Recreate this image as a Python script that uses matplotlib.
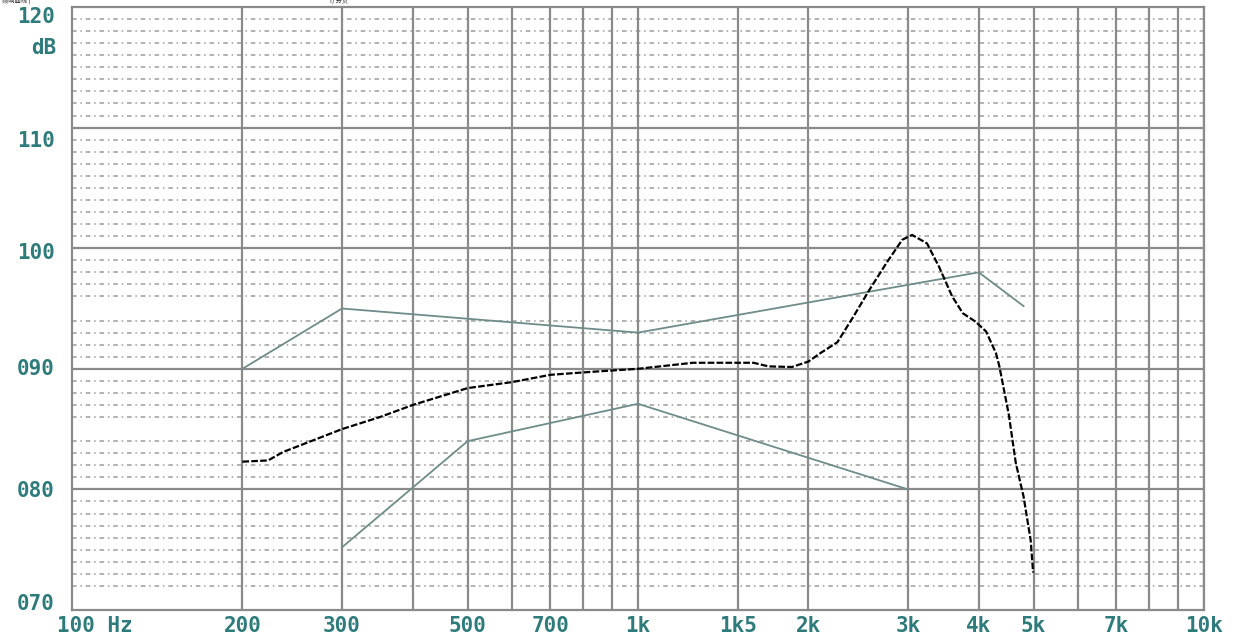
import matplotlib.pyplot as plt
import numpy as np

# frequency response curves (Hz, dB)
upper_freq = [200, 300, 1000, 4000, 4800]
upper_db = [90.0, 95.0, 93.0, 98.0, 95.2]

lower_freq = [300, 500, 1000, 3000]
lower_db = [75.2, 84.0, 87.1, 80.0]

main_freq = [200, 222, 236, 300, 350, 400, 500, 600, 700, 800, 1000, 1250, 1600,
             1700, 1870, 2000, 2100, 2250, 2400, 2560, 2750, 2930, 3050, 3240,
             3400, 3590, 3750, 3950, 4120, 4290, 4350, 4520, 4650, 4800, 4940, 4990]
main_db = [82.3, 82.4, 83.1, 85.0, 86.0, 87.0, 88.4, 88.9, 89.5, 89.7, 90.0, 90.5, 90.5,
           90.2, 90.15, 90.6, 91.3, 92.2, 94.3, 96.5, 98.8, 100.7, 101.1, 100.4,
           98.5, 96.0, 94.6, 93.9, 93.1, 91.3, 90.2, 86.2, 82.2, 79.4, 75.8, 73.1]

# axis labels
x_ticks = [100, 200, 300, 500, 700, 1000, 1500, 2000, 3000, 4000, 5000, 7000, 10000]
x_labels = ['100 Hz', '200', '300', '500', '700', '1k', '1k5', '2k', '3k', '4k', '5k', '7k', '10k']
y_ticks = [120, 110, 100, 90, 80, 70]
y_labels = ['120', '110', '100', '090', '080', '070']

# grid lines
v_lines = list(range(200, 1001, 100)) + [1500] + list(range(2000, 10001, 1000))
h_major = [80, 90, 100, 110]
h_minor = [d for d in range(71, 120) if d % 10 != 0 and d not in (71, 85, 95)]

label_color = '#2e7b7b'
grid_color = '#8a8a8a'
curve_gray = '#6f8c8a'

fig = plt.figure(figsize=(12.37, 6.37), dpi=100)
ax = fig.add_axes([72 / 1237, 1 - 610 / 637, (1204 - 72) / 1237, (610 - 7) / 637])
ax.set_xscale('log')
ax.set_xlim(100, 10000)
ax.set_ylim(70, 120)
ax.set_xticks([])
ax.set_yticks([])
ax.minorticks_off()
for s in ax.spines.values():
    s.set_color(grid_color)
    s.set_linewidth(1.6)

# dash-dot minor lines and solid major lines
for d in h_minor:
    ax.axhline(d, color='#9c9c9c', lw=1.1, ls=(0, (3, 2.5, 1, 2.5)), zorder=1)
for d in h_major:
    ax.axhline(d, color=grid_color, lw=1.6, zorder=2)
for f in v_lines:
    ax.axvline(f, color=grid_color, lw=1.6, zorder=2)

# curves
ax.plot(upper_freq, upper_db, color=curve_gray, lw=1.3, zorder=3)
ax.plot(lower_freq, lower_db, color=curve_gray, lw=1.3, zorder=3)
ax.plot(main_freq, main_db, color='black', lw=1.6, ls=(0, (3, 1)), zorder=4)

# tick labels in blocky mono font
font = dict(family='DejaVu Sans Mono', fontweight='bold', fontsize=15, color=label_color)
for f, lab in zip(x_ticks, x_labels):
    if lab == '100 Hz':
        ax.text(f * 0.94, -0.026, lab, transform=ax.get_xaxis_transform(),
                ha='left', va='center', **font)
    else:
        ax.text(f, -0.026, lab, transform=ax.get_xaxis_transform(),
                ha='center', va='center', **font)

y_pos = {120: 119.2, 110: 108.9, 100: 99.6, 90: 90.0, 80: 79.9, 70: 70.5}
for v, lab in zip(y_ticks, y_labels):
    ax.text(-0.015, y_pos[v], lab, transform=ax.get_yaxis_transform(),
            ha='right', va='center', clip_on=False, **font)
ax.text(-0.025, 116.6, 'dB', transform=ax.get_yaxis_transform(),
        ha='center', va='center', clip_on=False, **font)

# small heading in the strip above the grid
fig.text(0.002, 1 - 6 / 637, '频响曲线 (', fontsize=4.5, color='#222222',
         family=['Noto Sans CJK SC', 'DejaVu Sans'], va='bottom')
fig.text(330 / 1237, 1 - 6 / 637, 'f) 分贝', fontsize=4.5, color='#222222',
         family=['Noto Sans CJK SC', 'DejaVu Sans'], va='bottom')

fig.savefig('out.png', dpi=100)
